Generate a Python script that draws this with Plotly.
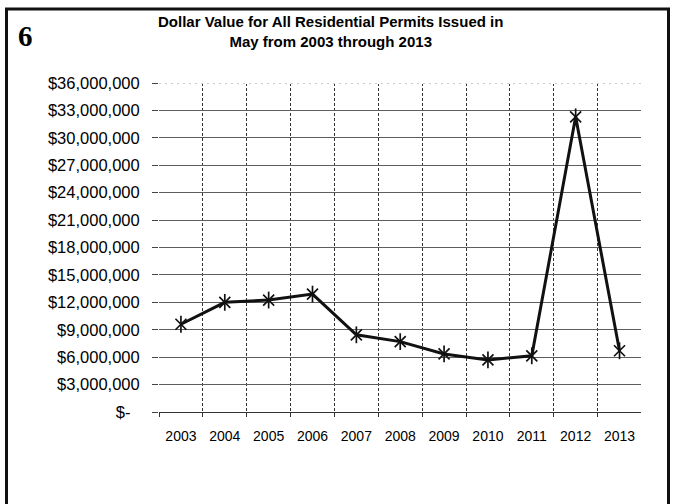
import plotly.graph_objects as go

years = [2003, 2004, 2005, 2006, 2007, 2008, 2009, 2010, 2011, 2012, 2013]
values = [9600000, 12000000, 12250000, 12900000, 8450000, 7700000,
          6350000, 5700000, 6150000, 32300000, 6700000]
y_tick_vals = [0, 3000000, 6000000, 9000000, 12000000, 15000000, 18000000,
               21000000, 24000000, 27000000, 30000000, 33000000, 36000000]
y_tick_text = ["$-\u00a0\u00a0", "$3,000,000", "$6,000,000", "$9,000,000",
               "$12,000,000", "$15,000,000", "$18,000,000", "$21,000,000",
               "$24,000,000", "$27,000,000", "$30,000,000", "$33,000,000",
               "$36,000,000"]
title_lines = ["Dollar Value for All Residential Permits Issued in",
               "May from 2003 through 2013"]
page_number = "6"

W, H = 678, 504
L, R, T, B = 159, 37, 83, 92
pw, ph = W - L - R, H - T - B

def px(x):
    return (x - L) / pw

def py(y):
    return (H - B - y) / ph

fig = go.Figure()
fig.add_trace(go.Scatter(
    x=years, y=values, mode="lines+markers",
    line=dict(color="#111111", width=3),
    marker=dict(symbol="x-thin-open", size=11, color="#111111",
                line=dict(width=1.7, color="#111111")),
    showlegend=False, hoverinfo="skip"))
fig.add_trace(go.Scatter(
    x=years, y=values, mode="markers",
    marker=dict(symbol="line-ns-open", size=12, color="#111111",
                line=dict(width=1.7, color="#111111")),
    showlegend=False, hoverinfo="skip"))

ymax = y_tick_vals[-1]
fig.update_layout(
    width=W, height=H,
    margin=dict(l=L, r=R, t=T, b=B, pad=0),
    paper_bgcolor="white", plot_bgcolor="white",
    font=dict(family="Liberation Sans, Arial, sans-serif", color="#000000"),
    xaxis=dict(
        range=[years[0] - 0.5, years[-1] + 0.49],
        tickvals=years, ticktext=[str(y) for y in years],
        ticks="", showgrid=False, zeroline=False,
        showline=True, linecolor="#333333", linewidth=1,
        tickfont=dict(size=14, color="#000000"),
        ticklabelstandoff=11,
        minor=dict(tick0=years[0] - 0.5, dtick=1, showgrid=True,
                   gridcolor="#333333", gridwidth=1, griddash="3px,2px",
                   ticks="outside", ticklen=4, tickcolor="#333333"),
    ),
    yaxis=dict(
        range=[0, ymax], tickvals=y_tick_vals, ticktext=y_tick_text,
        ticks="outside", ticklen=6, tickcolor="#444444",
        showgrid=True, gridcolor="#5e5e5e", gridwidth=1,
        zeroline=False, showline=False,
        tickfont=dict(size=16.5, color="#000000"),
        ticklabelstandoff=9,
    ),
)

# top grid line drawn lighter and dotted
fig.add_shape(type="line", xref="paper", yref="y", x0=0, x1=1, y0=ymax, y1=ymax,
              line=dict(color="white", width=2), layer="above")
fig.add_shape(type="line", xref="paper", yref="y", x0=0, x1=1, y0=ymax, y1=ymax,
              line=dict(color="#999999", width=1, dash="2px,4px"), layer="above")

# outer frame
fig.add_shape(type="rect", xref="paper", yref="paper",
              x0=px(6.5), x1=px(668.5), y0=py(507), y1=py(9),
              line=dict(color="#111111", width=3), fillcolor="rgba(0,0,0,0)",
              layer="above")

fig.add_annotation(xref="paper", yref="paper", x=px(330), y=py(31.5),
                   text="<b>" + "<br>".join(title_lines) + "</b>",
                   showarrow=False, xanchor="center", yanchor="middle",
                   font=dict(size=15, color="#000000",
                             family="Liberation Sans, Arial, sans-serif"))
fig.add_annotation(xref="paper", yref="paper", x=px(25), y=py(36),
                   text="<b>" + page_number + "</b>",
                   showarrow=False, xanchor="center", yanchor="middle",
                   font=dict(size=29, color="#000000",
                             family="Liberation Serif, Times New Roman, serif"))

fig.write_html("out.html")
